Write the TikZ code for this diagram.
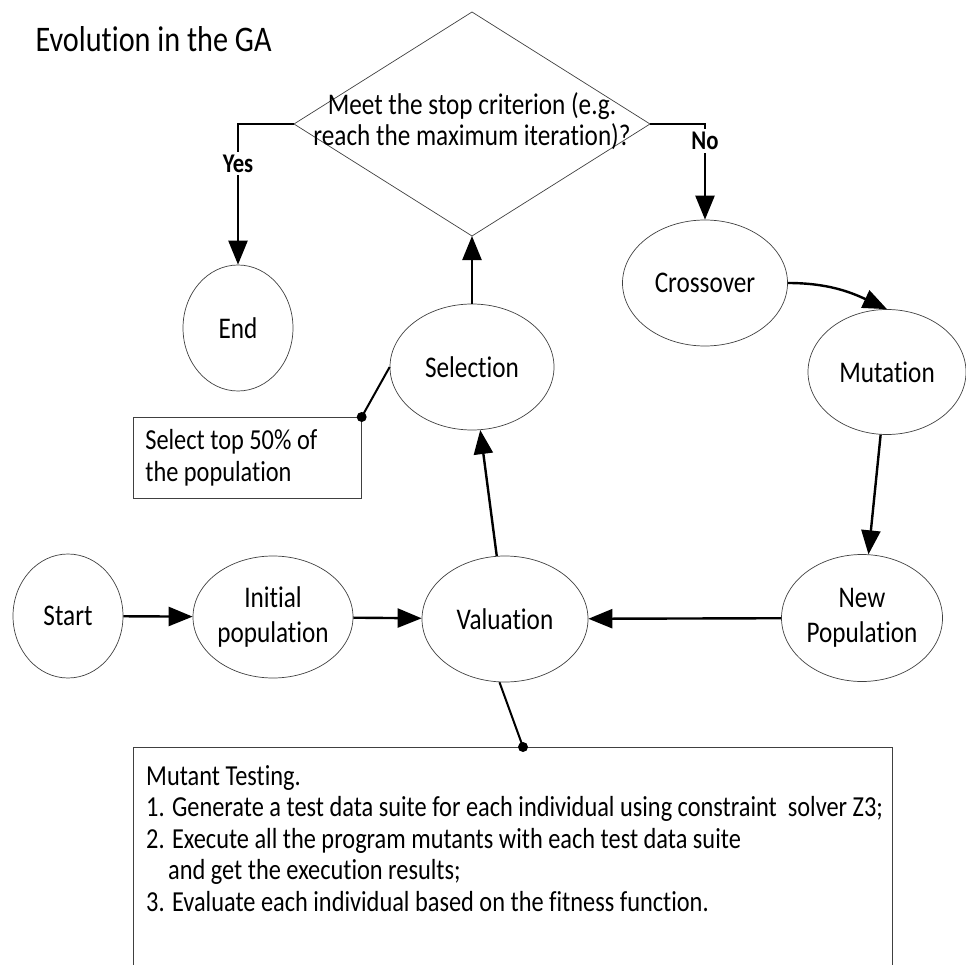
\documentclass[tikz,border=0pt]{standalone}
\usepackage{fontspec}
\setmainfont{Carlito}[FakeStretch=0.84, Ligatures={TeX,NoCommon}]
\usepackage{tikz}
\usetikzlibrary{arrows.meta,shapes.geometric,positioning}

\newcommand{\titlefont}{\fontsize{36}{42}\selectfont}
\newcommand{\ellfont}{\fontsize{30}{35}\selectfont}
\newcommand{\stopfont}{\fontsize{30}{31}\selectfont}
\newcommand{\notefont}{\fontsize{29}{32}\selectfont}
\newcommand{\testfont}{\fontsize{29}{31.5}\selectfont}
\newcommand{\ynfont}{\bfseries\fontsize{27}{30}\selectfont}

\tikzset{
	ell/.style={ellipse, draw=black!75, line width=0.7pt, inner sep=0pt, align=center, font=\ellfont},
	flow/.style={line width=2.4pt, -{Triangle[length=24pt,width=19pt]}},
	pin/.style={line width=2pt},
	note/.style={draw=black!75, line width=0.7pt, align=flush left, inner sep=0pt},
	yn/.style={fill=white, font=\ynfont, inner sep=3pt}
}

\begin{document}
\begin{tikzpicture}[x=1pt, y=-1pt]
		\clip (0,0) rectangle (966,965);
		\node[anchor=base west, font=\titlefont] (title) at (32,52) {Evolution in the GA};
		% stop test
		\node[diamond, draw=black!75, line width=0.7pt, minimum width=356pt, minimum height=224pt, inner sep=0pt, outer sep=0pt] (stop) at (472,124) {};
		\node[font=\stopfont, align=center] (stoptxt) at (472,121) {Meet the stop criterion (e.g.\\reach the maximum iteration)?};
		% states
		\node[ell, minimum width=110pt, minimum height=126pt] (endn) at (238,328) {End};
		\node[ell, minimum width=165pt, minimum height=126pt] (cross) at (705,283) {Crossover};
		\node[ell, minimum width=158pt, minimum height=125pt] (mut) at (887,372) {Mutation};
		\node[ell, minimum width=164pt, minimum height=126pt] (sel) at (472,367) {Selection};
		\node[ell, minimum width=161pt, minimum height=127pt] (newp) at (862,618) {New\\Population};
		\node[ell, minimum width=166pt, minimum height=126pt] (val) at (505,619) {Valuation};
		\node[ell, minimum width=160pt, minimum height=122pt] (init) at (273,617) {Initial\\population};
		\node[ell, minimum width=110pt, minimum height=124pt] (start) at (68,616) {Start};
		% notes
		\node[note, anchor=north west, minimum width=228pt, minimum height=81pt, text width=204pt, font=\notefont] (selbox) at (133,417) {Select top 50\% of\\the population};
		\node[note, anchor=north west, minimum width=759pt, minimum height=260pt] (mtbox) at (133,747) {};
		\node[anchor=north west, align=left, font=\testfont, inner sep=0pt] (mttext) at (146,765) {Mutant Testing.\\1. Generate a test data suite for each individual using constraint\ \ solver Z3;\\2. Execute all the program mutants with each test data suite\\\hspace*{22pt}and get the execution results;\\3. Evaluate each individual based on the fitness function.};
		\coordinate (mtdot) at (523,747);
		% flow
		\draw[flow] (start) -- (init);
		\draw[flow] (init) -- (val);
		\draw[flow] (newp) -- (val);
		\draw[flow] (val) -- (sel);
		\draw[flow] (sel) -- (stop);
		\draw[flow] (stop.west) -| node[yn, pos=0.64] (yes) {Yes} (endn.north);
		\draw[flow] (stop.east) -| node[yn, pos=0.59] (no) {No} (cross.north);
		\draw[flow] (cross.east) to[out=0, in=155] (mut.north);
		\draw[flow] (mut) -- (newp);
		\draw[pin] (sel.west) -- (selbox.north east);
		\fill (selbox.north east) circle (5pt);
		\draw[pin] (val.265) -- (mtdot);
		\fill (mtdot) circle (5pt);
	\end{tikzpicture}
\end{document}
